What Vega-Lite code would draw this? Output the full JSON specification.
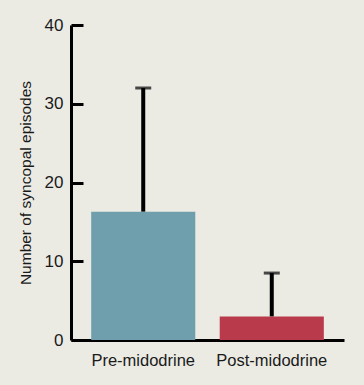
{
  "$schema": "https://vega.github.io/schema/vega-lite/v6.json",
  "autosize": "none",
  "width": 273,
  "height": 315,
  "padding": {"left": 71, "top": 25, "right": 20, "bottom": 45},
  "background": "#ebebe4",
  "config": {
    "view": {"stroke": null},
    "font": "Liberation Sans",
    "axis": {"grid": false, "domainColor": "#000", "domainWidth": 3, "tickColor": "#000", "tickWidth": 3, "labelColor": "#1a1a1a", "titleColor": "#1a1a1a", "labelFont": "Liberation Sans", "titleFont": "Liberation Sans", "titleFontWeight": "normal"}
  },
  "data": {"values": [
    {"group": "Pre-midodrine", "value": 16.3, "upper": 32},
    {"group": "Post-midodrine", "value": 3.0, "upper": 8.5}
  ]},
  "encoding": {
    "x": {"field": "group", "type": "nominal", "sort": null,
      "scale": {"paddingInner": 0.19, "paddingOuter": 0.157},
      "axis": {"title": null, "labelAngle": 0, "ticks": false, "labelFontSize": 16.5, "labelPadding": 12}}
  },
  "layer": [
    {"mark": {"type": "bar"},
     "encoding": {
       "y": {"field": "value", "type": "quantitative",
         "scale": {"domain": [0, 40]},
         "axis": {"title": "Number of syncopal episodes", "titleFontSize": 15.5, "titlePadding": 11, "values": [0, 10, 20, 30, 40], "labelFontSize": 17, "tickSize": -12, "labelPadding": 20}},
       "color": {"field": "group", "type": "nominal", "scale": {"domain": ["Pre-midodrine", "Post-midodrine"], "range": ["#6f9fad", "#b93a4b"]}, "legend": null}
     }},
    {"mark": {"type": "rule", "strokeWidth": 4, "color": "#000"},
     "encoding": {"y": {"field": "value", "type": "quantitative"}, "y2": {"field": "upper"}}},
    {"mark": {"type": "tick", "thickness": 3, "size": 16, "color": "#000", "orient": "horizontal"},
     "encoding": {"y": {"field": "upper", "type": "quantitative"}}}
  ]
}
